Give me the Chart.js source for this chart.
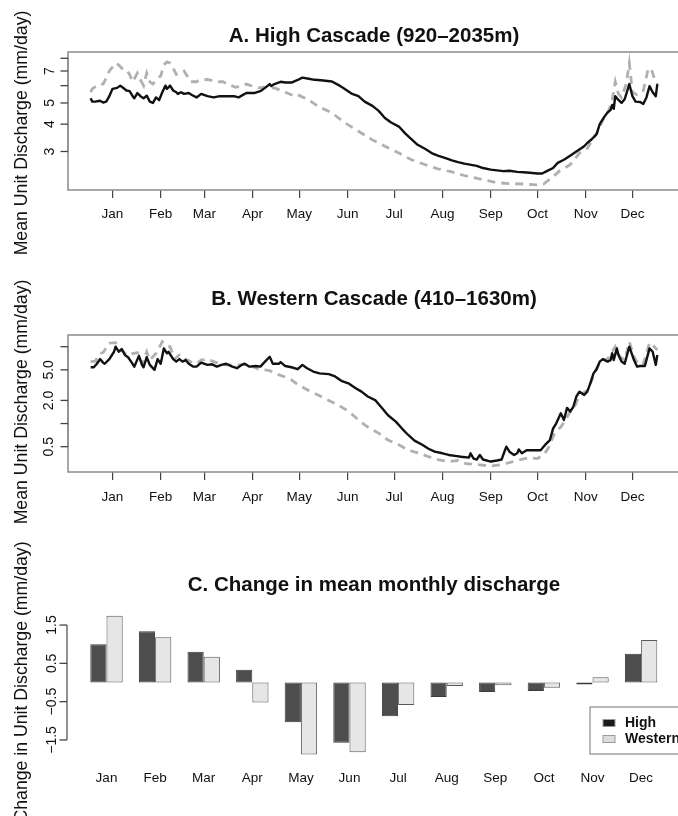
<!DOCTYPE html>
<html><head><meta charset="utf-8">
<script src="https://cdn.jsdelivr.net/npm/chart.js@4.4.1/dist/chart.umd.min.js"></script>
<style>
html,body{margin:0;padding:0;background:#fff;overflow:hidden;width:678px;height:816px;}
.wrap{position:absolute;left:0;width:690px;}
canvas{display:block;}
</style></head><body>
<div class="wrap" style="top:0;height:270px"><canvas id="cA" width="690" height="270"></canvas></div>
<div class="wrap" style="top:270px;height:270px"><canvas id="cB" width="690" height="270"></canvas></div>
<div class="wrap" style="top:540px;height:276px"><canvas id="cC" width="690" height="276"></canvas></div>
<script>
// ---------- data ----------
const monthLabels = ['Jan','Feb','Mar','Apr','May','Jun','Jul','Aug','Sep','Oct','Nov','Dec'];
const monthTickDays = [15,46,74,105,135,166,196,227,258,288,319,349];

// Panel A: High Cascade (day of year, mm/day)
const daysHighA = [1,2,4,7,9,11,13,15,18,20,22,24,26,28,29,31,33,35,37,39,41,43,45,47,49,50,52,54,56,57,
  59,61,64,66,69,72,76,80,84,88,93,96,98,101,106,110,113,116,117,119,123,126,130,134,137,141,145,149,156,160,
  164,169,173,177,182,186,190,194,199,203,207,211,216,220,224,229,233,237,241,249,253,258,262,266,270,275,279,283,288,291,
  294,298,301,305,309,313,318,320,323,326,328,331,333,335,336,337,338,340,342,344,347,349,351,354,356,358,360,362,364,365];
const highA = [5.25,5.07,5.07,5.12,5.02,5.07,5.37,5.8,5.86,6.0,5.85,5.7,5.66,5.37,5.25,5.55,5.37,5.25,5.4,5.07,
  5.0,5.3,5.15,5.6,6.0,5.8,6.0,5.7,5.6,5.5,5.6,5.5,5.55,5.44,5.3,5.5,5.37,5.3,5.37,5.37,
  5.37,5.3,5.4,5.55,5.55,5.66,5.86,6.1,5.97,6.1,6.25,6.2,6.2,6.37,6.53,6.45,6.38,6.35,6.27,6.05,
  5.8,5.5,5.37,5.07,4.85,4.6,4.27,4.07,3.9,3.63,3.42,3.22,3.08,2.95,2.87,2.8,2.73,2.68,2.64,2.58,
  2.52,2.48,2.46,2.44,2.45,2.42,2.41,2.4,2.38,2.38,2.44,2.52,2.66,2.75,2.87,3.0,3.17,3.28,3.42,3.6,
  4.0,4.33,4.52,4.65,4.9,4.7,5.37,5.16,5.0,5.2,6.1,5.37,5.07,5.05,4.95,5.3,5.97,5.6,5.37,6.1];
const daysWestA = [1,2,5,7,9,11,13,17,19,21,24,26,28,31,33,35,37,39,41,43,46,48,50,52,54,56,58,61,63,65,
  69,71,76,80,83,86,89,94,97,101,104,109,112,119,126,132,134,141,147,156,164,173,182,190,199,207,216,224,233,241,
  248,253,262,270,279,288,292,297,302,309,315,320,326,330,334,336,338,340,342,345,347,349,352,356,359,361,363,365];
const westA = [5.6,5.8,6.0,6.1,6.1,6.5,7.0,7.6,7.46,7.2,7.1,6.75,6.25,6.85,6.37,6.0,6.85,6.25,6.1,6.37,
  6.65,7.46,7.7,7.6,7.2,6.75,6.85,7.0,6.65,6.25,6.25,6.37,6.4,6.3,6.25,6.25,6.1,5.9,5.95,6.1,
  6.0,5.86,5.9,5.86,5.6,5.37,5.45,5.16,4.83,4.5,4.07,3.71,3.39,3.17,2.95,2.75,2.61,2.5,2.42,2.33,
  2.27,2.23,2.16,2.14,2.13,2.11,2.13,2.27,2.44,2.61,2.95,3.1,3.63,4.18,4.65,5.16,6.25,5.5,5.3,6.1,
  7.6,5.6,5.44,5.7,7.1,7.2,6.5,6.1];

// Panel B: Western Cascade
const daysHighB = [1,3,5,7,9,10,13,16,17,19,21,23,25,27,29,32,34,35,37,39,42,44,46,48,50,51,54,56,58,60,
  62,64,67,69,72,76,79,82,85,88,92,95,98,100,103,107,110,113,116,118,122,123,126,130,134,137,140,144,148,154,
  158,162,167,171,175,179,184,188,192,197,201,205,209,214,218,222,227,231,235,239,244,245,247,249,251,253,258,262,265,266,
  268,270,273,275,276,278,281,285,290,293,296,298,300,303,305,307,309,311,313,315,318,320,322,324,326,328,330,333,335,336,
  337,339,340,342,344,347,350,352,354,357,360,362,364,365];
const highB = [5.4,5.4,6.0,6.9,6.2,6.0,6.9,8.6,10.0,8.6,9.3,7.8,7.3,6.4,5.5,7.6,5.8,5.4,7.3,5.8,
  5.0,6.9,6.0,9.5,8.2,8.6,6.9,6.4,6.9,6.4,6.7,6.0,5.5,5.5,6.2,5.8,5.9,5.5,5.8,6.0,
  5.5,5.25,5.8,6.0,5.5,5.6,5.5,6.4,7.4,6.0,6.0,6.3,5.6,5.4,5.1,5.8,5.25,4.75,4.5,4.4,
  4.1,3.6,3.3,2.9,2.6,2.25,2.0,1.6,1.28,1.06,0.86,0.71,0.6,0.53,0.47,0.43,0.41,0.39,0.38,0.37,
  0.36,0.41,0.35,0.34,0.39,0.34,0.32,0.33,0.34,0.39,0.5,0.43,0.39,0.41,0.46,0.41,0.45,0.45,0.45,0.53,
  0.61,0.86,1.0,1.36,1.11,1.6,1.43,1.64,2.25,2.6,2.35,2.6,3.35,4.5,5.1,6.4,6.9,6.4,6.7,8.2,
  6.7,9.5,7.8,6.4,6.0,10.0,6.7,5.5,5.6,5.6,9.5,8.6,5.8,7.8];
const daysWestB = [1,4,7,9,13,17,20,24,31,34,37,39,43,47,49,52,55,58,62,65,69,72,76,80,84,88,93,97,101,106,
  109,112,116,119,125,130,134,141,147,154,160,167,173,179,186,192,199,205,212,218,224,231,237,242,251,258,264,270,277,283,
  288,292,295,299,303,306,309,312,315,320,323,326,329,333,336,338,341,344,347,350,353,356,360,362,365];
const westB = [6.4,6.5,8.2,8.4,11.1,11.3,9.5,7.8,8.4,6.0,8.6,6.7,8.2,11.6,10.5,10.0,6.9,7.8,6.9,6.4,
  6.0,6.7,6.9,6.4,6.0,5.8,5.8,5.8,5.9,5.4,5.1,5.0,4.9,4.5,4.1,3.7,3.2,2.7,2.35,2.0,
  1.74,1.43,1.11,0.9,0.75,0.61,0.53,0.45,0.41,0.37,0.34,0.32,0.33,0.3,0.29,0.28,0.29,0.31,0.34,0.36,
  0.35,0.39,0.48,0.75,0.9,1.11,1.43,1.68,2.35,2.7,3.7,5.25,6.7,6.9,8.6,10.0,7.4,6.7,11.6,7.4,
  5.8,6.0,11.3,10.5,9.06];

// Panel C: change in mean monthly discharge (mm/day)
const changeHigh = [1.0,1.34,0.80,0.33,-1.04,-1.57,-0.88,-0.38,-0.25,-0.22,-0.05,0.75];
const changeWestern = [1.74,1.18,0.67,-0.52,-1.88,-1.82,-0.59,-0.09,-0.07,-0.14,0.14,1.11];

// axis ticks
const ticksA = [3,4,5,6,7,8];
const tickLabelsA = ['3','4','5','','7',''];
const ticksB = [0.5,1,2,5,10];
const tickLabelsB = ['0.5','','2.0','5.0',''];
const ticksC = [-1.5,-0.5,0.5,1.5];
const tickLabelsC = ['\u22121.5','\u22120.5','0.5','1.5'];

// ---------- drawing ----------
const FONT = '"Liberation Sans", Arial, Helvetica, sans-serif';
Chart.defaults.font.family = FONT;
Chart.defaults.color = '#111';

function pts(days, vals){ return days.map((d,i)=>({x:d, y:vals[i]})); }

function decor(o){
  return {
    id: 'decor',
    afterDraw(chart){
      const ctx = chart.ctx, ca = chart.chartArea, ys = chart.scales.y;
      ctx.save();
      if (o.box){
        ctx.strokeStyle = '#8a8a8a'; ctx.lineWidth = 1.5;
        ctx.strokeRect(ca.left, ca.top, ca.right - ca.left, ca.bottom - ca.top);
      }
      const ax = o.axisX;
      const p = o.ticks.map(v => ys.getPixelForValue(v));
      ctx.strokeStyle = o.axisColor; ctx.lineWidth = 1.3;
      ctx.beginPath(); ctx.moveTo(ax, Math.min(...p)); ctx.lineTo(ax, Math.max(...p)); ctx.stroke();
      ctx.strokeStyle = '#444';
      p.forEach(py => { ctx.beginPath(); ctx.moveTo(ax, py); ctx.lineTo(ax - 7.5, py); ctx.stroke(); });
      ctx.fillStyle = '#111'; ctx.font = '14px ' + FONT; ctx.textAlign = 'center'; ctx.textBaseline = 'middle';
      o.labels.forEach((t,i) => {
        if (!t) return;
        ctx.save(); ctx.translate(o.labelX, p[i]); ctx.rotate(-Math.PI/2); ctx.fillText(t, 0, 0); ctx.restore();
      });
      ctx.font = 'bold 20.5px ' + FONT; ctx.textAlign = 'center'; ctx.textBaseline = 'alphabetic';
      ctx.fillText(o.title, 374, o.titleY);
      ctx.font = '17.7px ' + FONT;
      ctx.save(); ctx.translate(27, o.ylabY); ctx.rotate(-Math.PI/2); ctx.fillText(o.ylab, 0, 0); ctx.restore();
      if (o.legend){
        const L = o.legend;
        ctx.strokeStyle = '#8a8a8a'; ctx.lineWidth = 1.2;
        ctx.strokeRect(L.x, L.y, L.w, L.h);
        L.items.forEach(it => {
          ctx.fillStyle = it.fill; ctx.fillRect(L.x + 13, it.y - 3.5, 12, 7);
          ctx.strokeStyle = '#9a9a9a'; ctx.lineWidth = 1; ctx.strokeRect(L.x + 13, it.y - 3.5, 12, 7);
          ctx.fillStyle = '#111'; ctx.font = 'bold 14px ' + FONT; ctx.textAlign = 'left'; ctx.textBaseline = 'middle';
          ctx.fillText(it.text, L.x + 35, it.y);
        });
      }
      ctx.restore();
    }
  };
}

function lineChart(id, o){
  return new Chart(document.getElementById(id), {
    type: 'line',
    data: { datasets: [
      { label: 'High', data: pts(o.hd, o.hv), borderColor: '#111', borderWidth: 2.4, pointRadius: 0, tension: 0, borderJoinStyle: 'round' },
      { label: 'Western', data: pts(o.wd, o.wv), borderColor: '#b0b0b0', borderWidth: 2.8, borderDash: [8,6], pointRadius: 0, tension: 0 }
    ]},
    options: {
      responsive: false, animation: false, devicePixelRatio: 1,
      layout: { padding: { left: 68, right: 10, top: o.top, bottom: 0 } },
      plugins: { legend: { display: false }, tooltip: { enabled: false } },
      scales: {
        x: {
          type: 'linear', min: -13.56, max: 379.56,
          afterBuildTicks: s => { s.ticks = monthTickDays.map(v => ({ value: v })); },
          afterFit: s => { s.height = o.xh; },
          ticks: { autoSkip: false, maxRotation: 0, padding: o.pad, font: { size: 13.5 }, color: '#111',
                   callback: (v, i) => monthLabels[i] },
          grid: { display: true, drawOnChartArea: false, drawTicks: true, tickLength: 8, color: '#444', lineWidth: 1.2 },
          border: { display: false }
        },
        y: { type: 'logarithmic', min: o.ymin, max: o.ymax, display: false }
      }
    },
    plugins: [decor(o.decor)]
  });
}

lineChart('cA', { hd: daysHighA, hv: highA, wd: daysWestA, wv: westA, top: 52, xh: 80, pad: 8, ymin: 2.0, ymax: 8.55,
  decor: { box: true, axisX: 68, axisColor: '#8a8a8a', ticks: ticksA, labels: tickLabelsA, labelX: 50,
           title: 'A. High Cascade (920\u20132035m)', titleY: 41.5, ylab: 'Mean Unit Discharge (mm/day)', ylabY: 133 } });

lineChart('cB', { hd: daysHighB, hv: highB, wd: daysWestB, wv: westB, top: 65, xh: 68, pad: 9, ymin: 0.234, ymax: 14.2,
  decor: { box: true, axisX: 68, axisColor: '#8a8a8a', ticks: ticksB, labels: tickLabelsB, labelX: 49,
           title: 'B. Western Cascade (410\u20131630m)', titleY: 35, ylab: 'Mean Unit Discharge (mm/day)', ylabY: 132 } });

new Chart(document.getElementById('cC'), {
  type: 'bar',
  data: { labels: monthLabels, datasets: [
    { label: 'High', data: changeHigh, backgroundColor: '#4d4d4d', borderColor: '#3a3a3a', borderWidth: 1, borderSkipped: false,
      categoryPercentage: 2/3, barPercentage: 1.0 },
    { label: 'Western', data: changeWestern, backgroundColor: '#e6e6e6', borderColor: '#5a5a5a', borderWidth: 1, borderSkipped: false,
      categoryPercentage: 2/3, barPercentage: 1.0 }
  ]},
  options: {
    responsive: false, animation: false, devicePixelRatio: 1,
    layout: { padding: { left: 82.2, right: 24.6, top: 65.9, bottom: 0 } },
    plugins: { legend: { display: false }, tooltip: { enabled: false } },
    scales: {
      x: { type: 'category', afterFit: s => { s.height = 56.9; },
           ticks: { padding: 11, font: { size: 13.5 }, color: '#111', maxRotation: 0, autoSkip: false },
           grid: { display: false, drawTicks: false }, border: { display: false } },
      y: { type: 'linear', min: -2, max: 2, display: false }
    }
  },
  plugins: [decor({ box: false, axisX: 67, axisColor: '#555', ticks: ticksC, labels: tickLabelsC, labelX: 52.5,
    title: 'C. Change in mean monthly discharge', titleY: 50.5, ylab: 'Change in Unit Discharge (mm/day)', ylabY: 142,
    legend: { x: 590, y: 167, w: 96, h: 47, items: [ { text: 'High', fill: '#1a1a1a', y: 183 }, { text: 'Western', fill: '#dcdcdc', y: 199 } ] } })]
});
</script>
</body></html>
